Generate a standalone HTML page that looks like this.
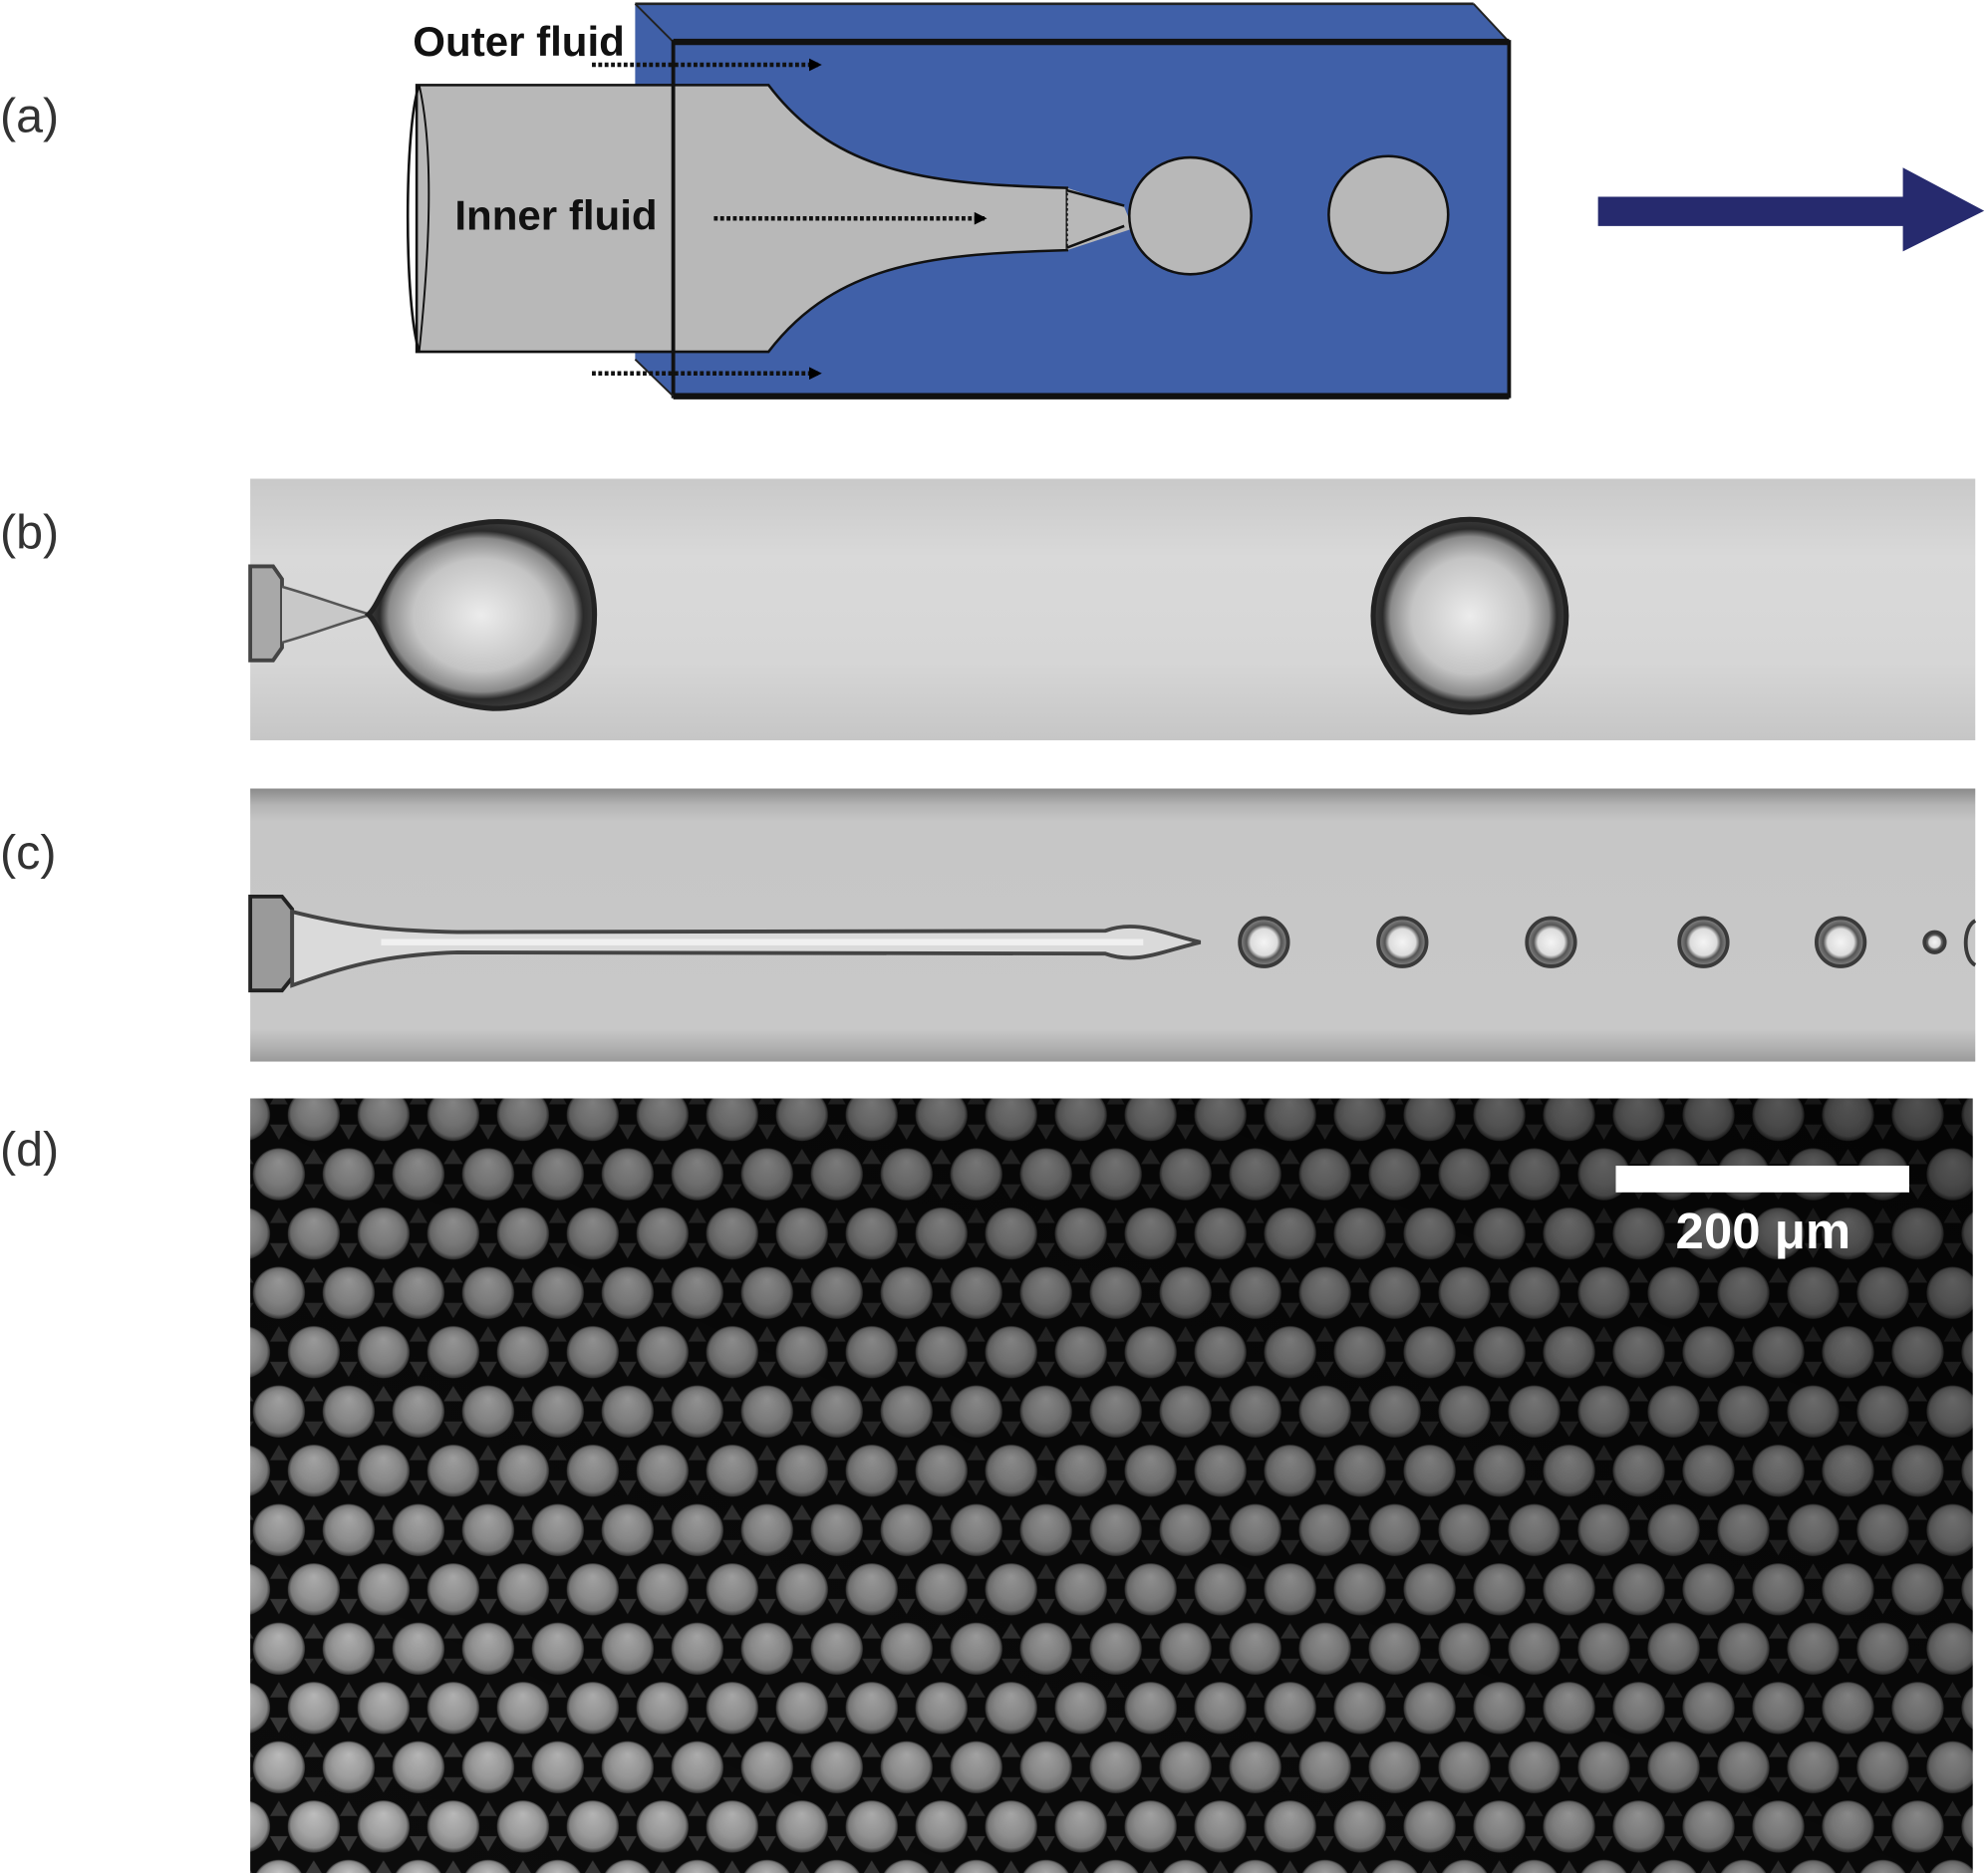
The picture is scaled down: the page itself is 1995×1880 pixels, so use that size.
<!DOCTYPE html>
<html><head><meta charset="utf-8"><style>
html,body{margin:0;padding:0;background:#fff;}
svg{display:block;}
</style></head><body>
<svg width="1995" height="1880" viewBox="0 0 1565 1475" preserveAspectRatio="none" xmlns="http://www.w3.org/2000/svg">
<defs>
  <radialGradient id="sph" cx="0.5" cy="0.5" r="0.5" fx="0.5" fy="0.25">
    <stop offset="0" stop-color="#c4c4c4"/>
    <stop offset="0.6" stop-color="#a6a6a6"/>
    <stop offset="0.88" stop-color="#8a8a8a"/>
    <stop offset="1" stop-color="#3a3a3a"/>
  </radialGradient>
  <pattern id="lat" patternUnits="userSpaceOnUse" x="219.55" y="854.65" width="54.9" height="93.4">
    <rect width="54.9" height="93.4" fill="#0c0c0c"/>
    <polygon points="27.45,50 20,62 35,62" fill="#3a3a3a"/>
    <polygon points="0,43 -7,31 7,31" fill="#3a3a3a"/>
    <polygon points="54.9,43 47.9,31 61.9,31" fill="#3a3a3a"/>
    <polygon points="27.45,90 20,78 35,78" fill="#333"/>
    <polygon points="0,3 -7,15 7,15" fill="#333"/>
    <polygon points="54.9,3 47.9,15 61.9,15" fill="#333"/>
    <circle cx="27.45" cy="23.35" r="20.5" fill="url(#sph)"/>
    <circle cx="27.45" cy="116.75" r="20.5" fill="url(#sph)"/>
    <circle cx="0" cy="70.05" r="20.5" fill="url(#sph)"/>
    <circle cx="54.9" cy="70.05" r="20.5" fill="url(#sph)"/>
  </pattern>
  <linearGradient id="shade" x1="0" y1="1" x2="1" y2="0">
    <stop offset="0" stop-color="#000" stop-opacity="0"/>
    <stop offset="1" stop-color="#000" stop-opacity="0.6"/>
  </linearGradient>
  <radialGradient id="drop" cx="0.5" cy="0.5" r="0.5">
    <stop offset="0" stop-color="#ececec"/>
    <stop offset="0.6" stop-color="#c4c4c4"/>
    <stop offset="0.82" stop-color="#8a8a8a"/>
    <stop offset="0.9" stop-color="#2a2a2a"/>
    <stop offset="1" stop-color="#3a3a3a"/>
  </radialGradient>
  <radialGradient id="sdrop" cx="0.5" cy="0.5" r="0.5">
    <stop offset="0" stop-color="#f4f4f4"/>
    <stop offset="0.55" stop-color="#dcdcdc"/>
    <stop offset="0.72" stop-color="#555"/>
    <stop offset="1" stop-color="#8a8a8a"/>
  </radialGradient>
  <linearGradient id="bgB" x1="0" y1="0" x2="0" y2="1">
    <stop offset="0" stop-color="#c9c9c9"/>
    <stop offset="0.3" stop-color="#d9d9d9"/>
    <stop offset="0.7" stop-color="#d6d6d6"/>
    <stop offset="1" stop-color="#c6c6c6"/>
  </linearGradient>
  <linearGradient id="bgC" x1="0" y1="0" x2="0" y2="1">
    <stop offset="0" stop-color="#8a8a8a"/>
    <stop offset="0.06" stop-color="#b4b4b4"/>
    <stop offset="0.12" stop-color="#c6c6c6"/>
    <stop offset="0.88" stop-color="#c8c8c8"/>
    <stop offset="0.95" stop-color="#b0b0b0"/>
    <stop offset="1" stop-color="#9a9a9a"/>
  </linearGradient>
  <marker id="ah" markerWidth="10" markerHeight="10" refX="9" refY="5" orient="auto" markerUnits="userSpaceOnUse">
    <path d="M0,0 L10,5 L0,10 Z" fill="#000"/>
  </marker>
</defs>

<g font-family="Liberation Sans, sans-serif" font-size="38" fill="#333" font-weight="300">
  <text x="0" y="104">(a)</text>
  <text x="0" y="432">(b)</text>
  <text x="0" y="684">(c)</text>
  <text x="0" y="918">(d)</text>
</g>

<polygon points="500,3 1160,3 1188,33 530,33" fill="#4060a8"/>
<polygon points="500,3 530,33 530,312 500,283" fill="#4060a8"/>
<rect x="530" y="33" width="658" height="279" fill="#4060a8"/>
<line x1="500" y1="3" x2="1160" y2="3" stroke="#222" stroke-width="2"/>
<line x1="1160" y1="3" x2="1188" y2="33" stroke="#222" stroke-width="1.5"/>
<line x1="500" y1="3" x2="530" y2="33" stroke="#222" stroke-width="1.5"/>
<path d="M328,67 L605,67 C660,140 740,145 840,148 L840,197 C740,200 660,205 605,277 L328,277 Z" fill="#b8b8b8" stroke="#111" stroke-width="2"/>
<path d="M840,148 L885,163 L892,180 L840,197 Z" fill="#b8b8b8"/>
<line x1="840" y1="148" x2="840" y2="197" stroke="#111" stroke-width="1.5" stroke-dasharray="2,2"/>
<path d="M840,150 L885,162 M840,195 L885,178" stroke="#111" stroke-width="2"/>
<ellipse cx="937" cy="170" rx="48" ry="46" fill="#b8b8b8" stroke="#111" stroke-width="2"/>
<ellipse cx="1093" cy="169" rx="47" ry="46" fill="#b8b8b8" stroke="#111" stroke-width="2"/>
<path d="M330,67 C318,100 318,240 330,277" fill="none" stroke="#111" stroke-width="2"/>
<path d="M330,67 C342,120 338,200 330,277" fill="none" stroke="#111" stroke-width="1.5"/>
<path d="M530,33 L1188,33 L1188,312 L530,312 Z" fill="none" stroke="#111" stroke-width="3"/>
<line x1="530" y1="33" x2="1188" y2="33" stroke="#111" stroke-width="5"/>
<line x1="530" y1="312" x2="1188" y2="312" stroke="#111" stroke-width="5"/>
<line x1="500" y1="283" x2="530" y2="312" stroke="#222" stroke-width="1.5"/>
<g stroke="#111" stroke-width="3.5" stroke-dasharray="3,2" fill="none">
  <line x1="466" y1="51" x2="646" y2="51" marker-end="url(#ah)"/>
  <line x1="466" y1="294" x2="646" y2="294" marker-end="url(#ah)"/>
  <line x1="562" y1="172" x2="776" y2="172" marker-end="url(#ah)"/>
</g>
<g font-family="Liberation Sans, sans-serif" font-weight="bold" font-size="33" fill="#111">
  <text x="325" y="44">Outer fluid</text>
  <text x="358" y="181">Inner fluid</text>
</g>
<polygon points="1258,155 1498,155 1498,132 1562,166 1498,198 1498,178 1258,178" fill="#262a6e"/>

<rect x="197" y="377" width="1358" height="206" fill="url(#bgB)"/>
<path d="M197,446 L215,446 L222,456 L222,510 L215,520 L197,520 Z" fill="#a8a8a8" stroke="#444" stroke-width="3"/>
<path d="M222,462 C250,470 270,478 292,484 C270,490 250,498 222,506" fill="#c8c8c8" stroke="#555" stroke-width="2"/>
<path d="M290,484 C305,470 308,418 385,411 C440,408 468,440 468,484 C468,530 440,558 388,558 C308,552 305,498 290,484 Z" fill="url(#drop)" stroke="#222" stroke-width="4"/>
<ellipse cx="1157" cy="485" rx="76" ry="76" fill="url(#drop)" stroke="#222" stroke-width="4"/>

<rect x="197" y="621" width="1358" height="215" fill="url(#bgC)"/>
<path d="M197,706 L222,706 L230,716 L230,770 L222,780 L197,780 Z" fill="#9a9a9a" stroke="#222" stroke-width="3"/>
<path d="M230,718 C270,728 300,733 360,734 L870,733 C895,724 915,735 945,742 C915,749 895,760 870,751 L360,750 C300,752 270,762 230,776 Z" fill="#dadada" stroke="#444" stroke-width="3"/>
<line x1="300" y1="742" x2="900" y2="742" stroke="#f0f0f0" stroke-width="5"/>
<g fill="url(#sdrop)" stroke="#3a3a3a" stroke-width="3">
  <circle cx="995" cy="742" r="19"/>
  <circle cx="1104" cy="742" r="19"/>
  <circle cx="1221" cy="742" r="19"/>
  <circle cx="1341" cy="742" r="19"/>
  <circle cx="1449" cy="742" r="19"/>
  <circle cx="1523" cy="742" r="8"/>
</g>
<path d="M1555,725 C1545,730 1545,755 1555,760" fill="none" stroke="#3a3a3a" stroke-width="3"/>

<rect x="197" y="865" width="1356" height="610" fill="url(#lat)"/>
<rect x="197" y="865" width="1356" height="610" fill="url(#shade)"/>
<rect x="1272" y="918" width="231" height="21" fill="#fff"/>
<text x="1388" y="983" text-anchor="middle" font-family="Liberation Sans, sans-serif" font-weight="bold" font-size="40" fill="#fff">200 μm</text>
</svg>
</body></html>
